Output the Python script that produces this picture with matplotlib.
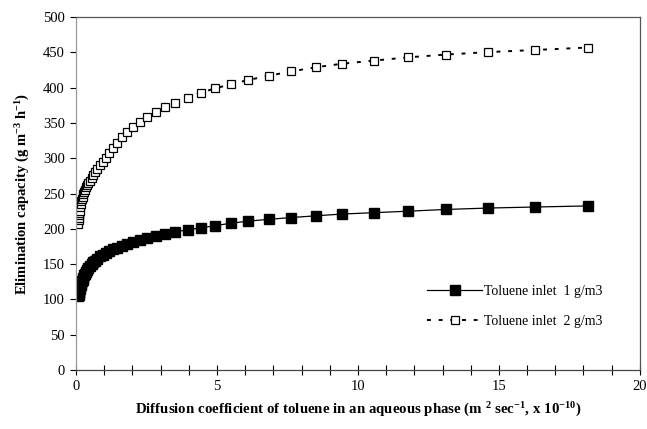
import matplotlib
matplotlib.use("Agg")
import matplotlib.pyplot as plt

plt.rcParams['font.family'] = ['Liberation Serif', 'DejaVu Serif']
plt.rcParams['mathtext.fontset'] = 'custom'
plt.rcParams['mathtext.rm'] = 'Liberation Serif:bold'
plt.rcParams['mathtext.bf'] = 'Liberation Serif:bold'
plt.rcParams['mathtext.it'] = 'Liberation Serif:bold'

# diffusion coefficient (x 10^-10 m2/s), shared by both series
diff_coef = [0.08, 0.09, 0.10, 0.11, 0.12, 0.13, 0.15, 0.17, 0.19, 0.21,
             0.23, 0.26, 0.29, 0.32, 0.36, 0.40, 0.44, 0.49, 0.55, 0.61,
             0.68, 0.76, 0.85, 0.95, 1.06, 1.18, 1.31, 1.46, 1.63, 1.82,
             2.03, 2.27, 2.53, 2.82, 3.15, 3.51, 3.98, 4.42, 4.93, 5.49,
             6.11, 6.84, 7.62, 8.50, 9.44, 10.58, 11.76, 13.11, 14.62, 16.29,
             18.16]

# elimination capacity, toluene inlet 1 g/m3
ec_1g = [105, 107, 109, 111, 113, 115, 118, 121, 124, 126,
         128, 131, 134, 136, 139, 142, 144, 147, 150, 153,
         155, 158, 161, 163, 166, 168, 171, 173, 176, 178,
         181, 184, 187, 190, 193, 196, 198.5, 201.5, 204.5, 208,
         211, 213.5, 216, 218.5, 221, 223, 225, 227.5, 229.5, 231,
         232.5]

# elimination capacity, toluene inlet 2 g/m3
ec_2g = [207, 212, 216, 219, 222, 225, 231, 235, 239, 242,
         245, 249, 252, 255, 259, 262, 265, 268, 272, 276,
         281, 285, 290, 295, 301, 308, 315, 322, 330, 337,
         344, 351, 358, 365, 372, 379, 386, 393, 399, 405,
         411, 417, 423, 429, 434, 438.5, 443, 447, 450.5, 453.5,
         457]

fig = plt.figure(figsize=(6.47, 4.29), dpi=100)
ax = fig.add_axes([0.1175, 0.1375, 0.8715, 0.8225])

ax.plot(diff_coef, ec_1g, color='black', lw=0.9, marker='s', ms=6.5,
        mfc='black', mec='black', label='Toluene inlet  1 g/m3')
ax.plot(diff_coef, ec_2g, color='black', lw=1.4, ls=(0, (2, 4)), marker='s', ms=6.2,
        mfc='white', mec='black', mew=0.9, label='Toluene inlet  2 g/m3')

ax.set_xlim(0, 20)
ax.set_ylim(0, 500)
ax.set_xticks([0, 5, 10, 15, 20])
ax.set_xticks(range(0, 21), minor=True)
ax.set_yticks(range(0, 501, 50))
ax.tick_params(axis='x', which='both', direction='inout', length=7, width=0.8,
               labelsize=10.5, pad=4)
ax.tick_params(axis='y', which='both', direction='out', length=4, width=0.8,
               labelsize=10.5, pad=4)

ax.spines['left'].set_color('#999999')
ax.spines['bottom'].set_color('#444444')
ax.spines['top'].set_color('#555555')
ax.spines['right'].set_color('#555555')
for s in ax.spines.values():
    s.set_linewidth(0.9)

ax.set_ylabel('Elimination capacity (g m$^{-3}$ h$^{-1}$)', fontsize=10.5,
              fontweight='bold', labelpad=8)
ax.set_xlabel('Diffusion coefficient of toluene in an aqueous phase (m $^{2}$ sec$^{-1}$, x 10$^{-10}$)',
              fontsize=10.7, fontweight='bold', labelpad=5)

ax.legend(loc='center left', bbox_to_anchor=(0.6, 0.18), frameon=False,
          fontsize=10, handlelength=4, labelspacing=1.2, handletextpad=0.1)

plt.savefig('out.png', dpi=100)
